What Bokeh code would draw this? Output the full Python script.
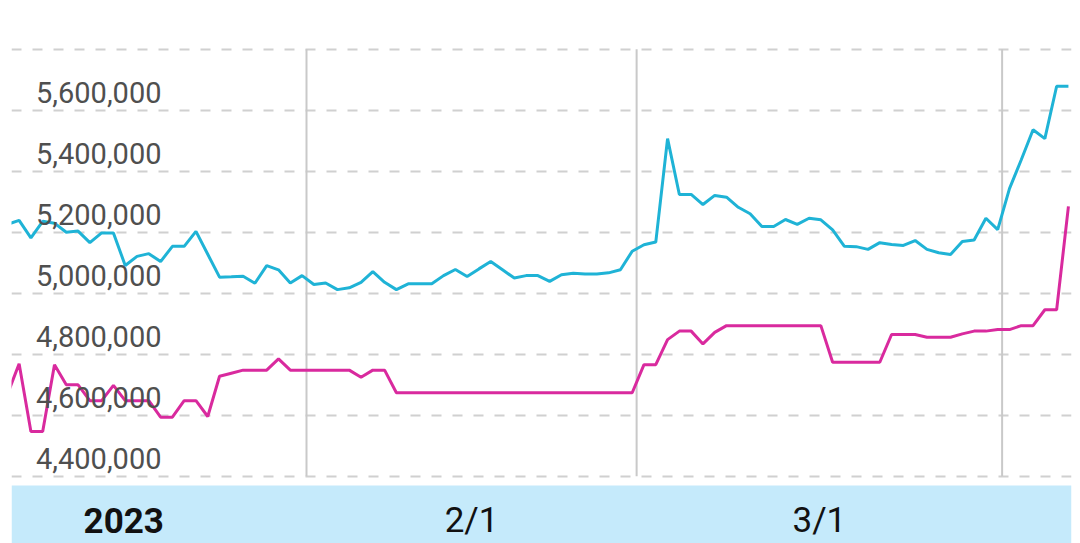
import pandas as pd
from bokeh.plotting import figure
from bokeh.models import Range1d, FixedTicker, BoxAnnotation, ColumnDataSource
from bokeh.core.properties import value
from bokeh.embed import file_html
from bokeh.resources import INLINE

# ---------------- data ----------------
dates = pd.date_range("2023-01-06", "2023-04-06", freq="D")

cyan_values = [
    5226000, 5239000, 5182000, 5236000, 5230000, 5200000, 5204000, 5166000, 5198000, 5198000,
    5091000, 5121000, 5130000, 5104000, 5154000, 5154000, 5203000, 5128000, 5053000, 5054000,
    5056000, 5033000, 5091000, 5077000, 5034000, 5058000, 5029000, 5034000, 5012000, 5018000,
    5036000, 5071000, 5036000, 5012000, 5031000, 5031000, 5031000, 5058000, 5078000, 5055000,
    5080000, 5104000, 5077000, 5050000, 5058000, 5058000, 5039000, 5061000, 5066000, 5063000,
    5063000, 5067000, 5077000, 5138000, 5159000, 5168000, 5507000, 5324000, 5324000, 5291000,
    5321000, 5315000, 5282000, 5261000, 5219000, 5219000, 5242000, 5226000, 5246000, 5241000,
    5208000, 5154000, 5153000, 5144000, 5166000, 5160000, 5157000, 5173000, 5144000, 5133000,
    5127000, 5170000, 5175000, 5246000, 5209000, 5343000, 5438000, 5536000, 5507000, 5679000,
    5679000,
]

magenta_values = [
    4668000, 4769000, 4547000, 4547000, 4766000, 4700000, 4700000, 4648000, 4648000, 4698000,
    4648000, 4648000, 4648000, 4594000, 4594000, 4648000, 4648000, 4596000, 4728000, 4738000,
    4748000, 4748000, 4748000, 4785000, 4748000, 4748000, 4748000, 4748000, 4748000, 4748000,
    4725000, 4748000, 4748000, 4674000, 4674000, 4674000, 4674000, 4674000, 4674000, 4674000,
    4674000, 4674000, 4674000, 4674000, 4674000, 4674000, 4674000, 4674000, 4674000, 4674000,
    4674000, 4674000, 4674000, 4674000, 4766000, 4766000, 4848000, 4876000, 4876000, 4834000,
    4872000, 4894000, 4894000, 4894000, 4894000, 4894000, 4894000, 4894000, 4894000, 4894000,
    4774000, 4774000, 4774000, 4774000, 4774000, 4865000, 4865000, 4865000, 4856000, 4856000,
    4856000, 4867000, 4876000, 4876000, 4881000, 4881000, 4894000, 4894000, 4946000, 4946000,
    5285000,
]

y_ticks = [4400000, 4600000, 4800000, 5000000, 5200000, 5400000, 5600000, 5800000]
y_tick_labels = ["4,400,000", "4,600,000", "4,800,000", "5,000,000",
                 "5,200,000", "5,400,000", "5,600,000", ""]

month_starts = pd.to_datetime(["2023-01-01", "2023-02-01", "2023-03-01", "2023-04-01"])
month_labels = ["2023", "2/1", "3/1"]
month_label_weights = ["bold", "normal", "normal"]

# ---------------- layout constants ----------------
FEB1 = pd.Timestamp("2023-02-01")
POINT_SHIFT = pd.Timedelta(hours=15)


def ms(t):
    return pd.Timestamp(t).value / 1e6


x_start = ms(FEB1 - pd.Timedelta(days=25.021))
x_end = ms(FEB1 + pd.Timedelta(days=64.885))
y_start, y_end = 4179665, 5960000

p = figure(
    width=1072, height=543,
    x_axis_type="datetime",
    x_axis_location=None, y_axis_location=None,
    x_range=Range1d(x_start, x_end), y_range=Range1d(y_start, y_end),
    output_backend="svg", toolbar_location=None,
    min_border_left=11, min_border_right=1, min_border_top=0, min_border_bottom=0,
)
p.outline_line_color = None
p.background_fill_color = "white"
p.border_fill_color = "white"

p.xgrid.visible = False
p.ygrid.ticker = FixedTicker(ticks=y_ticks)
p.ygrid.grid_line_color = "#d0d0d0"
p.ygrid.grid_line_width = 2
p.ygrid.grid_line_dash = "10 11"

# month boundary lines
bounds_src = ColumnDataSource(dict(
    x=list(month_starts[1:]),
    y0=[min(y_ticks)] * 3,
    y1=[max(y_ticks)] * 3,
))
p.segment(x0="x", x1="x", y0="y0", y1="y1", source=bounds_src,
          line_color="#c9c9c9", line_width=2)

# bottom band
band_top = 4370000
p.add_layout(BoxAnnotation(top=band_top, fill_color="#c5eafb", fill_alpha=1.0,
                           line_color=None, level="underlay"))

# data lines
x_pts = dates + POINT_SHIFT
src = ColumnDataSource(dict(x=x_pts, cyan=cyan_values, magenta=magenta_values))
p.line("x", "magenta", source=src, line_color="#d92a9e", line_width=3)
p.line("x", "cyan", source=src, line_color="#1fb3d6", line_width=3)

# y tick labels (inside the plot)
lab_src = ColumnDataSource(dict(
    x=[x_start] * len(y_ticks), y=y_ticks, t=y_tick_labels,
))
p.text(x="x", y="y", text="t", source=lab_src, x_offset=150, y_offset=-18,
       text_align="right", text_baseline="alphabetic",
       text_font=value("Roboto"), text_font_size="29px", text_color="#4f4f4f")

# month labels in band, centred on each month
centers = [month_starts[i] + (month_starts[i + 1] - month_starts[i]) / 2
           for i in range(len(month_labels))]
for c, t, w in zip(centers, month_labels, month_label_weights):
    p.text(x=[ms(c)], y=[y_start], text=[t], y_offset=-23,
           text_align="center", text_baseline="alphabetic",
           text_font=value("Roboto"), text_font_size="35px",
           text_font_style=w, text_color="#111111")

open("out.html", "w").write(file_html(p, INLINE))
